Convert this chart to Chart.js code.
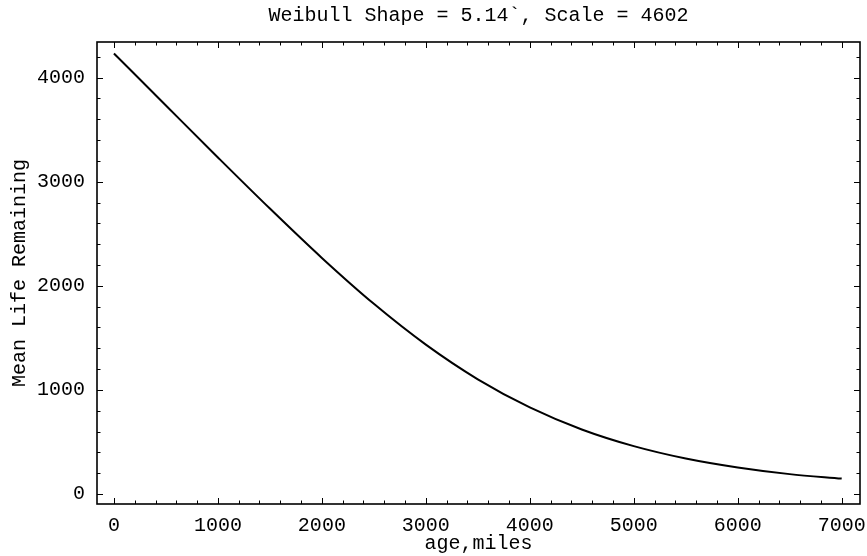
<!DOCTYPE html>
<html>
<head>
<meta charset="utf-8">
<script src="https://cdn.jsdelivr.net/npm/chart.js@4/dist/chart.umd.min.js"></script>
<style>
  html, body { margin: 0; padding: 0; background: #fff; }
  #wrap { width: 867px; height: 556px; }
</style>
</head>
<body>
<div id="wrap"><canvas id="mlr"></canvas></div>
<script>
// age (miles) vs mean life remaining
const ages = [0, 500, 1000, 1500, 2000, 2500, 3000, 3500, 4000, 4500, 5000, 5500, 6000, 6500, 7000];
const remaining = [4232, 3732, 3233, 2742, 2268, 1827, 1435, 1102, 832, 620, 460, 341, 255, 191, 148];

const xTicks = [0, 1000, 2000, 3000, 4000, 5000, 6000, 7000];
const yTicks = [0, 1000, 2000, 3000, 4000];

const FONT = "'Liberation Mono', 'Courier New', monospace";

// Mathematica-style frame: ticks point inwards on all four sides
const frameTicks = {
  id: 'frameTicks',
  afterDatasetsDraw(chart) {
    const { ctx, chartArea: a, scales: { x, y } } = chart;
    ctx.save();
    ctx.strokeStyle = '#000';
    ctx.lineWidth = 1;
    ctx.beginPath();
    for (let v = 0; v <= 7000; v += 200) {
      const px = Math.round(x.getPixelForValue(v)) + 0.5;
      const len = v % 1000 === 0 ? 6 : 3.5;
      ctx.moveTo(px, a.bottom); ctx.lineTo(px, a.bottom - len);
      ctx.moveTo(px, a.top); ctx.lineTo(px, a.top + len);
    }
    for (let v = 0; v <= 4200; v += 200) {
      const py = Math.round(y.getPixelForValue(v)) + 0.5;
      const len = v % 1000 === 0 ? 6 : 3.5;
      ctx.moveTo(a.left, py); ctx.lineTo(a.left + len, py);
      ctx.moveTo(a.right, py); ctx.lineTo(a.right - len, py);
    }
    ctx.stroke();
    ctx.lineWidth = 1.6;
    ctx.strokeRect(a.left, a.top, a.right - a.left, a.bottom - a.top);
    ctx.restore();
  }
};

new Chart(document.getElementById('mlr'), {
  type: 'line',
  data: {
    datasets: [{
      data: ages.map((a, i) => ({ x: a, y: remaining[i] })),
      borderColor: '#000',
      borderWidth: 2,
      pointRadius: 0,
      fill: false,
      cubicInterpolationMode: 'monotone'
    }]
  },
  options: {
    responsive: true,
    maintainAspectRatio: false,
    animation: false,
    layout: { padding: { top: 0, right: 7, bottom: 0, left: 0 } },
    plugins: {
      legend: { display: false },
      tooltip: { enabled: false },
      title: {
        display: true,
        fullSize: false,
        text: 'Weibull Shape = 5.14`, Scale = 4602',
        color: '#000',
        font: { family: FONT, size: 20, weight: 'normal', lineHeight: 1.2 },
        padding: { top: 4, bottom: 14 }
      }
    },
    scales: {
      x: {
        type: 'linear',
        min: -163,
        max: 7176,
        afterBuildTicks: s => { s.ticks = xTicks.map(v => ({ value: v })); },
        afterFit: s => { s.height = 52; s.paddingLeft = 0; s.paddingRight = 0; },
        grid: { display: false, drawTicks: false },
        border: { display: false },
        ticks: {
          color: '#000',
          padding: 10,
          maxRotation: 0,
          callback: v => String(v),
          font: { family: FONT, size: 20 }
        },
        title: {
          display: true,
          text: 'age,miles',
          color: '#000',
          padding: { top: 0, bottom: 0 },
          font: { family: FONT, size: 20, lineHeight: 1.2 }
        }
      },
      y: {
        type: 'linear',
        min: -96,
        max: 4342,
        afterBuildTicks: s => { s.ticks = yTicks.map(v => ({ value: v })); },
        afterFit: s => { s.width = 97; s.paddingTop = 0; s.paddingBottom = 0; },
        grid: { display: false, drawTicks: false },
        border: { display: false },
        ticks: {
          color: '#000',
          padding: 12,
          callback: v => String(v),
          font: { family: FONT, size: 20 }
        },
        title: {
          display: true,
          text: 'Mean Life Remaining',
          color: '#000',
          padding: { top: 8, bottom: 0 },
          font: { family: FONT, size: 20, lineHeight: 1.2 }
        }
      }
    }
  },
  plugins: [frameTicks]
});
</script>
</body>
</html>
